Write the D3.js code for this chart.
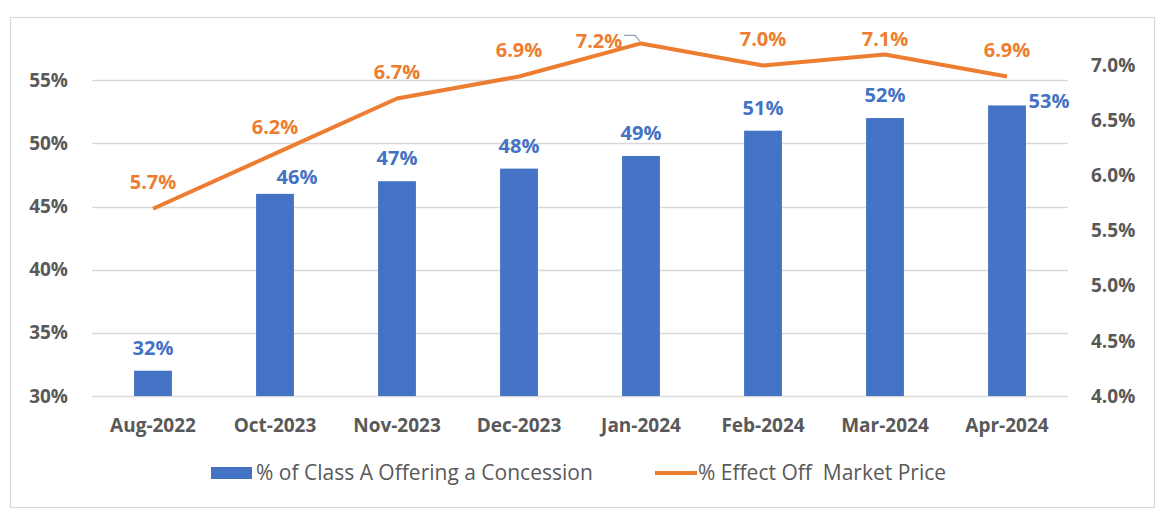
<!DOCTYPE html>
<html>
<head>
<meta charset="utf-8">
<script src="https://cdn.jsdelivr.net/npm/d3@7"></script>
<style>
  body { margin: 0; background: #fff; }
  svg { display: block; }
  .axis text { font-family: "Open Sans", sans-serif; font-weight: bold; font-size: 19px; fill: #595959; }
</style>
</head>
<body>
<svg id="svg"></svg>
<script>
// chart data
const months = ["Aug-2022", "Oct-2023", "Nov-2023", "Dec-2023", "Jan-2024", "Feb-2024", "Mar-2024", "Apr-2024"];
const concession = [32, 46, 47, 48, 49, 51, 52, 53];        // % of Class A Offering a Concession
const effectOff = [5.7, 6.2, 6.7, 6.9, 7.2, 7.0, 7.1, 6.9]; // % Effect Off Market Price
const leftTicks = [30, 35, 40, 45, 50, 55];
const rightTicks = [4.0, 4.5, 5.0, 5.5, 6.0, 6.5, 7.0];
const seriesNames = ["% of Class A Offering a Concession", "% Effect Off  Market Price"];

// label nudges (layout only)
const barLabelNudge = {1: [22, 6], 7: [42, 18]};
const lineLabelNudge = {4: [-42, 24], 6: [0, 11]};

const W = 1171, H = 518;
const plot = {left: 92, right: 1068, top: 17, bottom: 396};
const blue = "#4472C4", orange = "#ED7D31";

const svg = d3.select("#svg").attr("width", W).attr("height", H);

// outer frame
svg.append("rect")
  .attr("x", 10.5).attr("y", 17.5)
  .attr("width", 1144).attr("height", 490)
  .attr("fill", "none").attr("stroke", "#d9d9d9").attr("stroke-width", 1.2);

const x = d3.scaleBand()
  .domain(months)
  .range([plot.left, plot.right])
  .paddingInner(0.69)
  .paddingOuter(0.345);

const yLeft = d3.scaleLinear().domain([30, 60]).range([plot.bottom, plot.top]);
const yRight = d3.scaleLinear().domain([4.0, 7.44]).range([plot.bottom, plot.top]);

// gridlines
svg.append("g")
  .selectAll("line")
  .data(leftTicks)
  .join("line")
  .attr("x1", plot.left).attr("x2", plot.right)
  .attr("y1", d => Math.round(yLeft(d)) + 0.5)
  .attr("y2", d => Math.round(yLeft(d)) + 0.5)
  .attr("stroke", "#d9d9d9").attr("stroke-width", 1.5);

// axes
const axL = svg.append("g").attr("class", "axis")
  .attr("transform", `translate(${plot.left},0)`)
  .call(d3.axisLeft(yLeft).tickValues(leftTicks).tickSize(0).tickPadding(24).tickFormat(d => d + "%"));
const axR = svg.append("g").attr("class", "axis")
  .attr("transform", `translate(${plot.right},0)`)
  .call(d3.axisRight(yRight).tickValues(rightTicks).tickSize(0).tickPadding(23).tickFormat(d => d.toFixed(1) + "%"));
const axB = svg.append("g").attr("class", "axis")
  .attr("transform", `translate(0,${plot.bottom})`)
  .call(d3.axisBottom(x).tickSize(0).tickPadding(23));
[axL, axR, axB].forEach(a => a.select(".domain").remove());

// bars
svg.append("g")
  .selectAll("rect")
  .data(concession)
  .join("rect")
  .attr("x", (d, i) => x(months[i]))
  .attr("y", d => yLeft(d))
  .attr("width", x.bandwidth())
  .attr("height", d => plot.bottom - yLeft(d))
  .attr("fill", blue);

// line
const line = d3.line()
  .x((d, i) => x(months[i]) + x.bandwidth() / 2)
  .y(d => yRight(d));
svg.append("path")
  .datum(effectOff)
  .attr("d", line)
  .attr("fill", "none")
  .attr("stroke", orange)
  .attr("stroke-width", 4)
  .attr("stroke-linejoin", "round");

// bar labels
svg.append("g")
  .selectAll("text")
  .data(concession)
  .join("text")
  .attr("x", (d, i) => x(months[i]) + x.bandwidth() / 2 + (barLabelNudge[i] ? barLabelNudge[i][0] : 0))
  .attr("y", (d, i) => yLeft(d) - 23 + (barLabelNudge[i] ? barLabelNudge[i][1] : 0))
  .attr("dy", "0.36em")
  .attr("text-anchor", "middle")
  .style("font-family", "Open Sans, sans-serif")
  .style("font-weight", "bold")
  .style("font-size", "20px")
  .style("fill", blue)
  .text(d => d + "%");

// line labels
svg.append("g")
  .selectAll("text")
  .data(effectOff)
  .join("text")
  .attr("x", (d, i) => x(months[i]) + x.bandwidth() / 2 + (lineLabelNudge[i] ? lineLabelNudge[i][0] : 0))
  .attr("y", (d, i) => yRight(d) - 27 + (lineLabelNudge[i] ? lineLabelNudge[i][1] : 0))
  .attr("dy", "0.36em")
  .attr("text-anchor", "middle")
  .style("font-family", "Open Sans, sans-serif")
  .style("font-weight", "bold")
  .style("font-size", "20px")
  .style("fill", orange)
  .text(d => d.toFixed(1) + "%");

// leader line for the Jan-2024 label
const jx = x(months[4]) + x.bandwidth() / 2, jy = yRight(effectOff[4]);
svg.append("path")
  .attr("d", `M${jx - 17},${jy - 8} L${jx - 6},${jy - 8} L${jx - 1},${jy - 2}`)
  .attr("fill", "none")
  .attr("stroke", "#8ea0b8")
  .attr("stroke-width", 1.2);

// legend
const lg = svg.append("g").attr("transform", "translate(0,473)");
lg.append("rect").attr("x", 211).attr("y", -6).attr("width", 41).attr("height", 12).attr("fill", blue);
lg.append("text").attr("x", 256).attr("dy", "0.35em")
  .style("font-family", "Open Sans, sans-serif").style("font-size", "21px").style("fill", "#595959")
  .text(seriesNames[0]);
lg.append("line").attr("x1", 655).attr("x2", 697).attr("y1", 0).attr("y2", 0)
  .attr("stroke", orange).attr("stroke-width", 4);
lg.append("text").attr("x", 698).attr("dy", "0.35em")
  .style("font-family", "Open Sans, sans-serif").style("font-size", "21px").style("fill", "#595959")
  .style("white-space", "pre")
  .text(seriesNames[1]);
</script>
</body>
</html>
